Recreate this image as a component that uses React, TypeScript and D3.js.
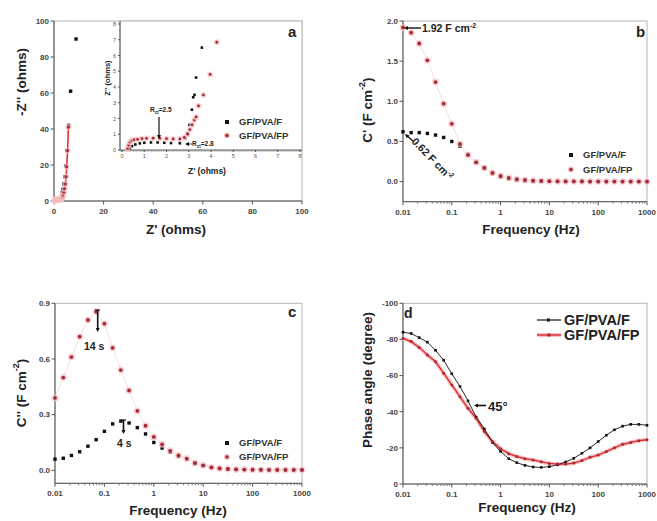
import React from "react";
import * as d3 from "d3";

// frequencies (Hz), shared by panels b, c, d
const FREQ = [0.01, 0.0147, 0.0215, 0.0316, 0.0464, 0.0681, 0.1, 0.147, 0.215, 0.316, 0.464, 0.681, 1, 1.47, 2.15, 3.16, 4.64, 6.81, 10, 14.7, 21.5, 31.6, 46.4, 68.1, 100, 147, 215, 316, 464, 681, 1000];

// panel a: Nyquist (Z', -Z'')
const NYQ_F_X = [0.35, 0.45, 0.6, 0.8, 1.0, 1.3, 1.6, 1.9, 2.2, 2.6, 2.84, 2.94, 3.03, 3.14, 3.2, 3.26, 3.33, 3.59, 4.0, 4.4, 4.8, 5.2, 5.9, 6.7, 8.9];
const NYQ_F_Y = [0.1, 0.25, 0.35, 0.42, 0.46, 0.48, 0.48, 0.46, 0.44, 0.43, 0.75, 1.07, 1.6, 2.56, 3.35, 3.5, 4.6, 6.5, 9.5, 13.5, 19.5, 28, 42, 61, 90];
const NYQ_FP_X = [0.25, 0.3, 0.36, 0.45, 0.55, 0.7, 0.9, 1.1, 1.4, 1.7, 2.0, 2.3, 2.6, 2.8, 2.95, 3.05, 3.15, 3.25, 3.33, 3.44, 3.66, 3.96, 4.26, 4.6, 4.9, 5.1, 5.5, 5.8];
const NYQ_FP_Y = [0.1, 0.3, 0.5, 0.6, 0.65, 0.68, 0.72, 0.74, 0.75, 0.74, 0.72, 0.7, 0.7, 0.8, 1.0, 1.3, 1.6, 1.9, 2.1, 2.8, 3.5, 4.8, 6.84, 9.5, 13.5, 19, 28, 41];

// panel b: C' (F cm-2)
const CRE_F = [0.62, 0.61, 0.61, 0.6, 0.58, 0.55, 0.5, 0.44, 0.34, 0.24, 0.17, 0.1, 0.06, 0.04, 0.02, 0.012, 0.008, 0.005, 0.004, 0.003, 0.002, 0.002, 0.001, 0.001, 0.001, 0.001, 0.001, 0.001, 0.001, 0.001, 0.001];
const CRE_FP = [1.92, 1.855, 1.72, 1.51, 1.24, 0.97, 0.72, 0.47, 0.33, 0.24, 0.17, 0.11, 0.07, 0.045, 0.03, 0.02, 0.012, 0.008, 0.005, 0.004, 0.003, 0.002, 0.002, 0.001, 0.001, 0.001, 0.001, 0.001, 0.001, 0.001, 0.001];

// panel c: C'' (F cm-2)
const CIM_F = [0.06, 0.065, 0.08, 0.1, 0.13, 0.165, 0.21, 0.25, 0.265, 0.255, 0.23, 0.196, 0.15, 0.12, 0.097, 0.075, 0.061, 0.036, 0.025, 0.015, 0.01, 0.007, 0.005, 0.004, 0.003, 0.003, 0.002, 0.002, 0.002, 0.002, 0.002];
const CIM_FP = [0.39, 0.5, 0.61, 0.72, 0.81, 0.855, 0.79, 0.66, 0.54, 0.43, 0.32, 0.24, 0.18, 0.14, 0.105, 0.08, 0.063, 0.04, 0.027, 0.016, 0.01, 0.007, 0.005, 0.004, 0.003, 0.003, 0.002, 0.002, 0.002, 0.002, 0.002];

// panel d: -phase (degree)
const PH_F = [84, 83.3, 81, 78.5, 74, 68.5, 61, 54, 46, 37, 30.5, 23, 18, 14, 11.8, 10.3, 9.4, 9.2, 9.6, 10.6, 12.2, 14.2, 17, 20, 23.5, 27, 30, 32, 33, 33, 32.5];
const PH_FP = [80.6, 78.8, 75.6, 71.4, 67.7, 61.3, 54.8, 48.3, 41.9, 36.4, 29, 23.5, 19.5, 16.8, 15.2, 14, 13.3, 12.3, 11.4, 11, 11, 11.6, 13, 14.8, 16, 18, 20, 22, 23, 24, 24.5];

const SERIES = ["GF/PVA/F", "GF/PVA/FP"];
const FREQ_TICKS = [0.01, 0.1, 1, 10, 100, 1000];

const FONT = "'Liberation Sans', Arial, sans-serif";
const BLACK = "#111";
const RED = "#e0262b";
const DARKRED = "#a62a3c";
const PINK = "#f6c2c2";

const fmtFreq = (t: number) => String(t);

function Axes({ x, y, xTicks, yTicks, xFmt, yFmt, size = 8, minor = [] as number[] }: any) {
  const [xa, xb] = x.range();
  const [yb, ya] = y.range();
  return (
    <g fontFamily={FONT} fontWeight="bold" fill="#444">
      <rect x={xa} y={ya} width={xb - xa} height={yb - ya} fill="none" stroke="#b5b5b5" />
      <line x1={xa} x2={xa} y1={ya} y2={yb} stroke="#555" />
      <line x1={xa} x2={xb} y1={yb} y2={yb} stroke="#555" />
      {minor.map((t: number, i: number) => (
        <line key={"m" + i} x1={x(t)} x2={x(t)} y1={yb} y2={yb + 2} stroke="#777" />
      ))}
      {xTicks.map((t: number) => (
        <g key={"x" + t}>
          <line x1={x(t)} x2={x(t)} y1={yb} y2={yb + 3.5} stroke="#555" />
          <text x={x(t)} y={yb + size + 5} textAnchor="middle" fontSize={size}>{xFmt(t)}</text>
        </g>
      ))}
      {yTicks.map((t: number) => (
        <g key={"y" + t}>
          <line x1={xa - 3.5} x2={xa} y1={y(t)} y2={y(t)} stroke="#555" />
          <text x={xa - 5} y={y(t) + size * 0.35} textAnchor="end" fontSize={size}>{yFmt(t)}</text>
        </g>
      ))}
    </g>
  );
}

function Title({ x, y, rotate = false, size = 13, children }: any) {
  return (
    <text x={x} y={y} transform={rotate ? `rotate(-90 ${x} ${y})` : undefined} textAnchor="middle"
      dominantBaseline="middle" fontFamily={FONT} fontWeight="bold" fontSize={size} fill="#222">{children}</text>
  );
}

function Squares({ xs, ys, x, y, s = 3.4, color = BLACK }: any) {
  return <g>{xs.map((v: number, i: number) => <rect key={i} x={x(v) - s / 2} y={y(ys[i]) - s / 2} width={s} height={s} fill={color} />)}</g>;
}
function Dots({ xs, ys, x, y, r = 1.9, color = DARKRED, halo = true }: any) {
  return <g>{xs.map((v: number, i: number) => (
    <g key={i}>
      {halo && <circle cx={x(v)} cy={y(ys[i])} r={r + 1.6} fill={PINK} opacity={0.7} />}
      <circle cx={x(v)} cy={y(ys[i])} r={r} fill={color} />
    </g>
  ))}</g>;
}

function Arrow({ x1, y1, x2, y2, w = 1.3 }: any) {
  const a = Math.atan2(y2 - y1, x2 - x1);
  const h = 4;
  const p = [
    [x2, y2],
    [x2 - h * Math.cos(a) + 2 * Math.sin(a), y2 - h * Math.sin(a) - 2 * Math.cos(a)],
    [x2 - h * Math.cos(a) - 2 * Math.sin(a), y2 - h * Math.sin(a) + 2 * Math.cos(a)],
  ];
  return (
    <g>
      <line x1={x1} y1={y1} x2={x2 - 2 * Math.cos(a)} y2={y2 - 2 * Math.sin(a)} stroke={BLACK} strokeWidth={w} />
      <polygon points={p.map((q) => q.join(",")).join(" ")} fill={BLACK} />
    </g>
  );
}

function Legend({ x, y, gap, size }: any) {
  return (
    <g fontFamily={FONT} fontWeight="bold" fontSize={size} fill="#333">
      <rect x={x - 2} y={y - 2} width={4} height={4} fill={BLACK} />
      <text x={x + 12} y={y + size * 0.36}>{SERIES[0]}</text>
      <circle cx={x} cy={y + gap} r={3} fill={PINK} />
      <circle cx={x} cy={y + gap} r={1.7} fill={DARKRED} />
      <text x={x + 12} y={y + gap + size * 0.36}>{SERIES[1]}</text>
    </g>
  );
}

function minorLog(lo: number, hi: number) {
  const out: number[] = [];
  for (let e = Math.log10(lo); e < Math.log10(hi); e++) {
    for (let k = 2; k <= 9; k++) out.push(k * Math.pow(10, e));
  }
  return out;
}

function PanelA() {
  const x = d3.scaleLinear().domain([0, 100]).range([54, 302]);
  const y = d3.scaleLinear().domain([0, 100]).range([201, 21]);
  const xi = d3.scaleLinear().domain([0, 8]).range([122, 300]);
  const yi = d3.scaleLinear().domain([0, 8]).range([150, 24]);
  const ticks = [0, 20, 40, 60, 80, 100];
  const iticks = d3.range(0, 9);
  const line = d3.line<number>().x((v) => x(v)).y((_, i) => y(NYQ_FP_Y[i]));
  return (
    <g>
      <Axes x={x} y={y} xTicks={ticks} yTicks={ticks} xFmt={String} yFmt={String} size={8} />
      <path d={line(NYQ_FP_X) || ""} fill="none" stroke={RED} strokeWidth={1.5} />
      <Squares xs={NYQ_F_X} ys={NYQ_F_Y} x={x} y={y} s={3.4} />
      <Dots xs={NYQ_FP_X} ys={NYQ_FP_Y} x={x} y={y} r={1.5} />
      {/* inset */}
      <rect x={120} y={21} width={182} height={130} fill="#fff" />
      <g fontFamily={FONT} fill="#555">
        <rect x={120} y={21} width={182} height={130} fill="none" stroke="#b5b5b5" />
        <line x1={120} x2={302} y1={150} y2={150} stroke="#555" />
        <line x1={120} x2={120} y1={21} y2={150} stroke="#555" />
        {iticks.map((t) => (
          <g key={t}>
            <line x1={xi(t)} x2={xi(t)} y1={150} y2={152} stroke="#555" />
            <text x={xi(t)} y={158} fontSize={5.5} textAnchor="middle">{t}</text>
            <line x1={118} x2={120} y1={yi(t)} y2={yi(t)} stroke="#555" />
            <text x={116} y={yi(t) + 2} fontSize={5.5} textAnchor="end">{t}</text>
          </g>
        ))}
      </g>
      <Title x={207} y={172} size={8.5}>Z' (ohms)</Title>
      <Title x={108} y={78} rotate size={7.5}>Z'' (ohms)</Title>
      <Squares xs={NYQ_F_X.slice(0, 18)} ys={NYQ_F_Y.slice(0, 18)} x={xi} y={yi} s={2.6} />
      <Dots xs={NYQ_FP_X.slice(0, 23)} ys={NYQ_FP_Y.slice(0, 23)} x={xi} y={yi} r={1.4} />
      <g fontFamily={FONT} fontWeight="bold" fontSize={6.5} fill="#222">
        <text x={150} y={112}>R<tspan fontSize={4.5} dy={1.5}>ct</tspan><tspan dy={-1.5}>=2.5</tspan></text>
        <text x={192} y={146}>R<tspan fontSize={4.5} dy={1.5}>ct</tspan><tspan dy={-1.5}>=2.8</tspan></text>
      </g>
      <Arrow x1={159} y1={117} x2={159} y2={139} w={1.2} />
      <Arrow x1={192} y1={144} x2={185} y2={144} w={0.8} />
      <Legend x={227} y={122} gap={13.5} size={9.5} />
      <text x={288} y={37} fontFamily={FONT} fontWeight="bold" fontSize={15} fill="#222">a</text>
      <Title x={176} y={230} size={13.5}>Z' (ohms)</Title>
      <Title x={22} y={82} rotate size={13.5}>-Z'' (ohms)</Title>
    </g>
  );
}

function PanelB() {
  const x = d3.scaleLog().domain([0.01, 1000]).range([403, 647]);
  const y = d3.scaleLinear().domain([-0.25, 2.0]).range([201.7, 21]);
  const pink = d3.line<number>().x((v) => x(v)).y((_, i) => y(CRE_FP[i]));
  return (
    <g>
      <Axes x={x} y={y} xTicks={FREQ_TICKS} yTicks={[0, 0.5, 1.0, 1.5, 2.0]} xFmt={fmtFreq}
        yFmt={(t: number) => t.toFixed(1)} size={8} minor={minorLog(0.01, 1000)} />
      <path d={pink(FREQ) || ""} fill="none" stroke={PINK} strokeWidth={0.8} opacity={0.7} />
      <Squares xs={FREQ} ys={CRE_F} x={x} y={y} s={3.4} />
      <Dots xs={FREQ} ys={CRE_FP} x={x} y={y} r={1.9} />
      <Arrow x1={421} y1={28} x2={404} y2={28} w={1.4} />
      <text x={422} y={32} fontFamily={FONT} fontWeight="bold" fontSize={10.5} fill="#222">1.92 F cm<tspan fontSize={7} dy={-4}>-2</tspan></text>
      <Arrow x1={413} y1={141} x2={405} y2={134} w={1.2} />
      <text x={411} y={142} transform="rotate(46 411 142)" fontFamily={FONT} fontWeight="bold" fontSize={10.5} fill="#222">0.62 F cm<tspan fontSize={7} dy={-4}>-2</tspan></text>
      <Legend x={571} y={155} gap={14.5} size={9.5} />
      <text x={636} y={37} fontFamily={FONT} fontWeight="bold" fontSize={15} fill="#222">b</text>
      <Title x={531} y={230} size={13.5}>Frequency (Hz)</Title>
      <Title x={368} y={110} rotate size={13.5}>C' (F cm<tspan fontSize={9} dy={-5}>-2</tspan><tspan dy={5}>)</tspan></Title>
    </g>
  );
}

function PanelC() {
  const x = d3.scaleLog().domain([0.01, 1000]).range([55, 302]);
  const y = d3.scaleLinear().domain([-0.07, 0.9]).range([483.3, 303.3]);
  const pink = d3.line<number>().x((v) => x(v)).y((_, i) => y(CIM_FP[i]));
  return (
    <g>
      <Axes x={x} y={y} xTicks={FREQ_TICKS} yTicks={[0, 0.3, 0.6, 0.9]} xFmt={fmtFreq}
        yFmt={(t: number) => t.toFixed(1)} size={8} minor={minorLog(0.01, 1000)} />
      <path d={pink(FREQ) || ""} fill="none" stroke={PINK} strokeWidth={0.8} opacity={0.7} />
      <Squares xs={FREQ} ys={CIM_F} x={x} y={y} s={3.4} />
      <Dots xs={FREQ} ys={CIM_FP} x={x} y={y} r={1.9} />
      <line x1={95} x2={100} y1={310} y2={310} stroke={BLACK} strokeWidth={1.2} />
      <Arrow x1={97.7} y1={310} x2={97.7} y2={332} w={1.6} />
      <text x={84} y={350} fontFamily={FONT} fontWeight="bold" fontSize={10.5} fill="#222">14 s</text>
      <line x1={121} x2={126} y1={420} y2={420} stroke={BLACK} strokeWidth={1.2} />
      <Arrow x1={123.5} y1={420} x2={123.5} y2={434} w={1.6} />
      <text x={117} y={447} fontFamily={FONT} fontWeight="bold" fontSize={10.5} fill="#222">4 s</text>
      <Legend x={227} y={443} gap={14} size={9.5} />
      <text x={288} y={317} fontFamily={FONT} fontWeight="bold" fontSize={15} fill="#222">c</text>
      <Title x={178} y={511} size={13.5}>Frequency (Hz)</Title>
      <Title x={22} y={393} rotate size={13.5}>C'' (F cm<tspan fontSize={9} dy={-5}>-2</tspan><tspan dy={5}>)</tspan></Title>
    </g>
  );
}

function PanelD() {
  const x = d3.scaleLog().domain([0.01, 1000]).range([403, 647]);
  const y = d3.scaleLinear().domain([0, 100]).range([484, 303.3]);
  const mk = (vals: number[]) => d3.line<number>().x((v) => x(v)).y((_, i) => y(vals[i]))(FREQ) || "";
  return (
    <g>
      <Axes x={x} y={y} xTicks={FREQ_TICKS} yTicks={[0, 20, 40, 60, 80, 100]} xFmt={fmtFreq}
        yFmt={(t: number) => (t === 0 ? "0" : "-" + t)} size={8} minor={minorLog(0.01, 1000)} />
      <path d={mk(PH_FP)} fill="none" stroke={PINK} strokeWidth={4} />
      <path d={mk(PH_FP)} fill="none" stroke={RED} strokeWidth={1.3} />
      <path d={mk(PH_F)} fill="none" stroke={BLACK} strokeWidth={0.9} />
      <Squares xs={FREQ} ys={PH_F} x={x} y={y} s={2.6} />
      <Dots xs={FREQ} ys={PH_FP} x={x} y={y} r={1.5} halo={false} color={DARKRED} />
      <Arrow x1={486} y1={405.5} x2={474} y2={405.5} w={1.6} />
      <text x={488} y={410.5} fontFamily={FONT} fontWeight="bold" fontSize={13} fill="#222">45°</text>
      <g fontFamily={FONT} fontWeight="bold" fontSize={14.5} fill="#222">
        <line x1={537} x2={561} y1={320} y2={320} stroke={BLACK} strokeWidth={1.2} />
        <rect x={547} y={318.5} width={3} height={3} fill={BLACK} />
        <text x={564} y={325}>{SERIES[0]}</text>
        <line x1={537} x2={561} y1={335} y2={335} stroke={PINK} strokeWidth={4} />
        <line x1={537} x2={561} y1={335} y2={335} stroke={RED} strokeWidth={1.4} />
        <circle cx={549} cy={335} r={1.7} fill={DARKRED} />
        <text x={564} y={340}>{SERIES[1]}</text>
      </g>
      <text x={404} y={318} fontFamily={FONT} fontWeight="bold" fontSize={14} fill="#222">d</text>
      <Title x={527} y={508} size={13.5}>Frequency (Hz)</Title>
      <Title x={368} y={380} rotate size={13.5}>Phase angle (degree)</Title>
    </g>
  );
}

export default function App() {
  return (
    <svg width={657} height={521} style={{ position: "absolute", left: 0, top: 0, background: "#fff" }}>
      <rect width={657} height={521} fill="#fff" />
      <PanelA />
      <PanelB />
      <PanelC />
      <PanelD />
    </svg>
  );
}
